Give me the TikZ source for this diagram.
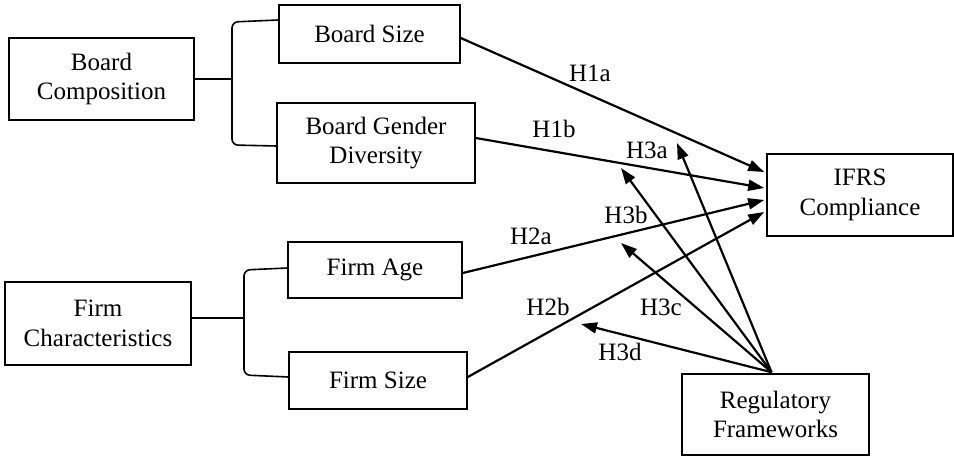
\documentclass[tikz,border=0pt]{standalone}
\usepackage{fontspec}
\setmainfont{Liberation Serif}
\usetikzlibrary{arrows.meta,calc}
\begin{document}
\begin{tikzpicture}[x=1pt,y=-1pt,
  box/.style={draw,line width=1.6pt,rectangle,align=center,inner sep=0pt,font=\fontsize{25}{29.5}\selectfont},
  arr/.style={line width=2.2pt,-{Triangle[length=16pt,width=11pt]}},
  lbl/.style={font=\fontsize{25}{29.5}\selectfont,inner sep=0pt},
  brk/.style={line width=1.6pt,rounded corners=6pt}]
\useasboundingbox[fill=white] (0,0) rectangle (954,457);
% boxes
\node[box,minimum width=185pt,minimum height=82pt] (bc) at (101.5,79) {Board\\Composition};
\node[box,minimum width=181pt,minimum height=58pt] (bs) at (369.5,34) {Board Size};
\node[box,minimum width=198pt,minimum height=80pt] (bg) at (376,143) {Board Gender\\Diversity};
\node[box,minimum width=186pt,minimum height=83pt] (fc) at (98,323.5) {Firm\\Characteristics};
\node[box,minimum width=174pt,minimum height=56pt] (fa) at (375,270) {Firm Age};
\node[box,minimum width=178pt,minimum height=57pt] (fs) at (378,380.5) {Firm Size};
\node[box,minimum width=186pt,minimum height=82pt] (ifrs) at (860,195) {IFRS\\Compliance};
\node[box,minimum width=187pt,minimum height=81pt] (rf) at (775.5,414.5) {Regulatory\\Frameworks};
% brackets
\coordinate (b1) at (232,79);
\draw[line width=1.6pt] (bc.east |- b1) -- (b1);
\draw[brk] (bs.west |- 0,20) -- (232,22) -- (232,145) -- (bg.west |- 0,146);
\coordinate (b2) at (244,318);
\draw[line width=1.6pt] (fc.east |- b2) -- (b2);
\draw[brk] (fa.west |- 0,268) -- (244,270) -- (244,375) -- (fs.west |- 0,377);
% H1/H2 arrows
\draw[arr] ($(bs.east)+(0,4)$) -- ($(ifrs.west)+(-2,-23)$);
\draw[arr] ($(bg.east)+(0,-5)$) -- ($(ifrs.west)+(-2,-7)$);
\draw[arr] ($(fa.east)+(0,3)$) -- ($(ifrs.west)+(-2,5)$);
\draw[arr] ($(fs.east)+(0,-3.5)$) -- ($(ifrs.west)+(-2,17)$);
% H3 arrows
\coordinate (rtop) at ($(rf.north)+(-4,-1)$);
\coordinate (t3a) at (677,143);
\coordinate (t3b) at (621,168);
\coordinate (t3c) at (621,243);
\coordinate (t3d) at (581,324);
\draw[arr] (rtop) -- (t3a);
\draw[arr] (rtop) -- (t3b);
\draw[arr] (rtop) -- (t3c);
\draw[arr] (rtop) -- (t3d);
% labels
\node[lbl] (l1a) at (590,73) {H1a};
\node[lbl] (l1b) at (554,129) {H1b};
\node[lbl] (l3a) at (647,150) {H3a};
\node[lbl] (l3b) at (626,215) {H3b};
\node[lbl] (l2a) at (531,236) {H2a};
\node[lbl] (l2b) at (548,307) {H2b};
\node[lbl] (l3c) at (661,307) {H3c};
\node[lbl] (l3d) at (620,352) {H3d};
\end{tikzpicture}
\end{document}
